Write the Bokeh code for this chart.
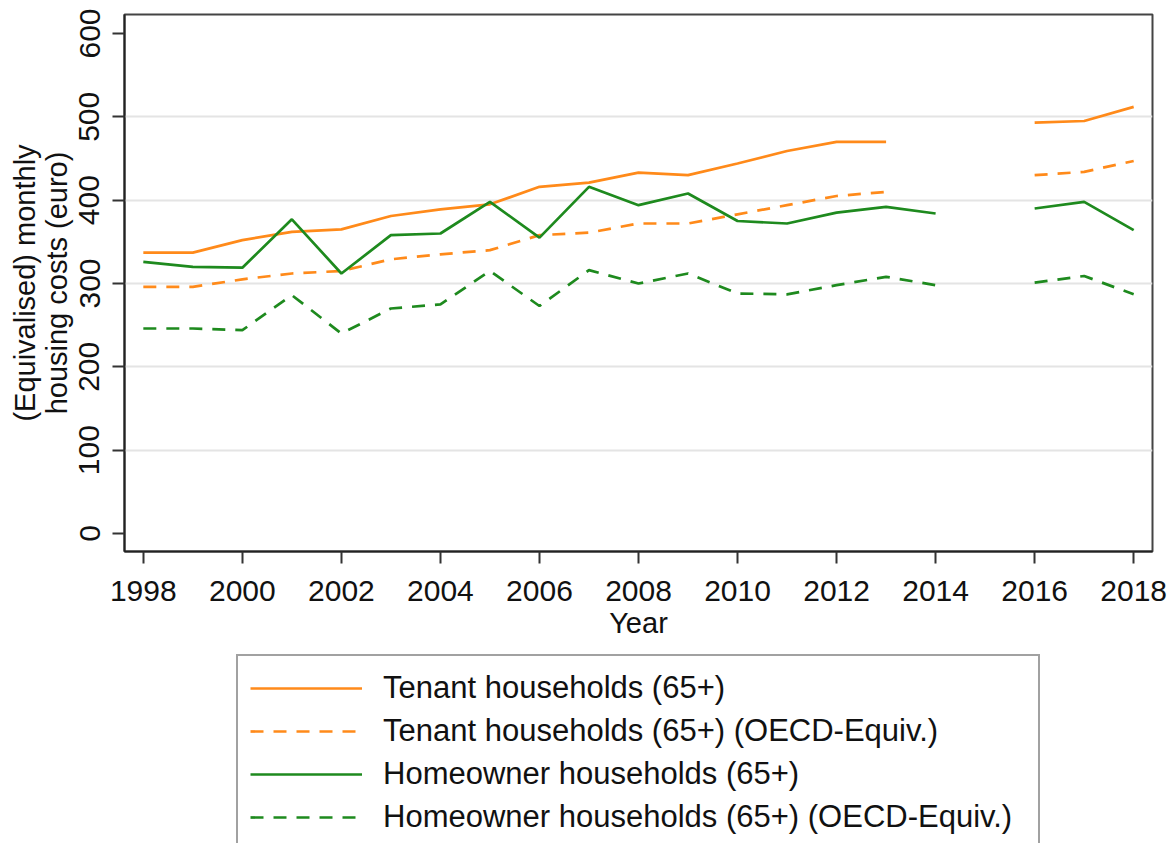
from bokeh.plotting import figure
from bokeh.layouts import column
from bokeh.models import Legend, LegendItem, FixedTicker, Range1d, ColumnDataSource
from bokeh.embed import file_html
from bokeh.resources import INLINE

NaN = float("nan")

years = list(range(1998, 2019))
tenant = [337, 337, 352, 362, 365, 381, 389, 395, 416, 421, 433, 430, 444, 459, 470, 470, NaN, NaN, 493, 495, 512]
tenant_eq = [296, 296, 305, 312, 315, 329, 335, 340, 358, 361, 372, 372, 383, 394, 405, 410, NaN, NaN, 430, 434, 447]
owner = [326, 320, 319, 377, 312, 358, 360, 398, 355, 416, 394, 408, 375, 372, 385, 392, 384, NaN, 390, 398, 364]
owner_eq = [246, 246, 244, 286, 240, 270, 275, 315, 273, 316, 300, 312, 288, 287, 298, 308, 298, NaN, 301, 309, 287]

series_labels = [
    "Tenant households (65+)",
    "Tenant households (65+) (OECD-Equiv.)",
    "Homeowner households (65+)",
    "Homeowner households (65+) (OECD-Equiv.)",
]
x_ticks = list(range(1998, 2019, 2))
y_ticks = [0, 100, 200, 300, 400, 500, 600]
grid_ticks = [100, 200, 300, 400, 500]

FONT = "Liberation Sans"
ORANGE = "#ff8a1a"
GREEN = "#1e8a1e"
DASH = "13 10"

src = ColumnDataSource(dict(year=years, tenant=tenant, tenant_eq=tenant_eq, owner=owner, owner_eq=owner_eq))
styles = [
    ("tenant", ORANGE, "solid"),
    ("tenant_eq", ORANGE, DASH),
    ("owner", GREEN, "solid"),
    ("owner_eq", GREEN, DASH),
]

# ---- main chart ----
p1 = figure(
    width=1176, height=653,
    x_range=Range1d(1997.62, 2018.38),
    y_range=Range1d(-21.6, 622.8),
    output_backend="svg", toolbar_location=None,
    min_border_left=124, min_border_right=24, min_border_top=14, min_border_bottom=102,
    background_fill_color="white", border_fill_color="white",
)
for col, color, dash in styles:
    p1.line("year", col, source=src, line_color=color, line_width=2.7, line_dash=dash)

p1.outline_line_color = "#444444"
p1.outline_line_width = 2

p1.xgrid.visible = False
p1.ygrid.ticker = FixedTicker(ticks=grid_ticks)
p1.ygrid.grid_line_color = "#e4e4e4"
p1.ygrid.grid_line_width = 2

for ax in (p1.xaxis, p1.yaxis):
    ax.axis_line_color = "#222222"
    ax.axis_line_width = 2
    ax.major_tick_line_color = "#333333"
    ax.major_tick_line_width = 2
    ax.major_tick_out = 12
    ax.major_tick_in = 0
    ax.minor_tick_line_color = None
    ax.major_label_text_font = FONT
    ax.major_label_text_font_size = "30px"
    ax.major_label_text_color = "#111111"
    ax.axis_label_text_font = FONT
    ax.axis_label_text_font_size = "29px"
    ax.axis_label_text_font_style = "normal"
    ax.axis_label_text_color = "#111111"

p1.xaxis.ticker = FixedTicker(ticks=x_ticks)
p1.xaxis.major_label_standoff = 17
p1.xaxis.axis_label = "Year"
p1.xaxis.axis_label_standoff = 3

p1.yaxis.ticker = FixedTicker(ticks=y_ticks)
p1.yaxis.major_label_orientation = "vertical"
p1.yaxis.major_label_standoff = 13
p1.yaxis.axis_label = "(Equivalised) monthly\nhousing costs (euro)"
p1.yaxis.axis_label_standoff = 4
p1.yaxis.axis_label_text_line_height = 1.0

# ---- legend panel (below the chart) ----
p2 = figure(
    width=1176, height=190,
    x_range=Range1d(0, 1), y_range=Range1d(0, 1),
    x_axis_type=None, y_axis_type=None,
    output_backend="svg", toolbar_location=None,
    min_border=0, outline_line_color=None,
    background_fill_color="white", border_fill_color="white",
)
p2.grid.visible = False
rs = []
for col, color, dash in styles:
    rs.append(p2.line("year", col, source=src, line_color=color, line_width=2.7, line_dash=dash))

legend = Legend(
    items=[LegendItem(label=lab, renderers=[r]) for lab, r in zip(series_labels, rs)],
    location=(112, -8), orientation="vertical",
    label_text_font=FONT, label_text_font_size="31px", label_text_color="#111111",
    glyph_width=112, glyph_height=40, label_height=40, label_standoff=21,
    label_width=643, spacing=3, padding=12, margin=0,
    border_line_color="#444444", border_line_width=2,
    background_fill_color="white", background_fill_alpha=1.0,
)
p2.add_layout(legend)

layout = column(p1, p2, spacing=0)
open("out.html", "w").write(file_html(layout, INLINE))
